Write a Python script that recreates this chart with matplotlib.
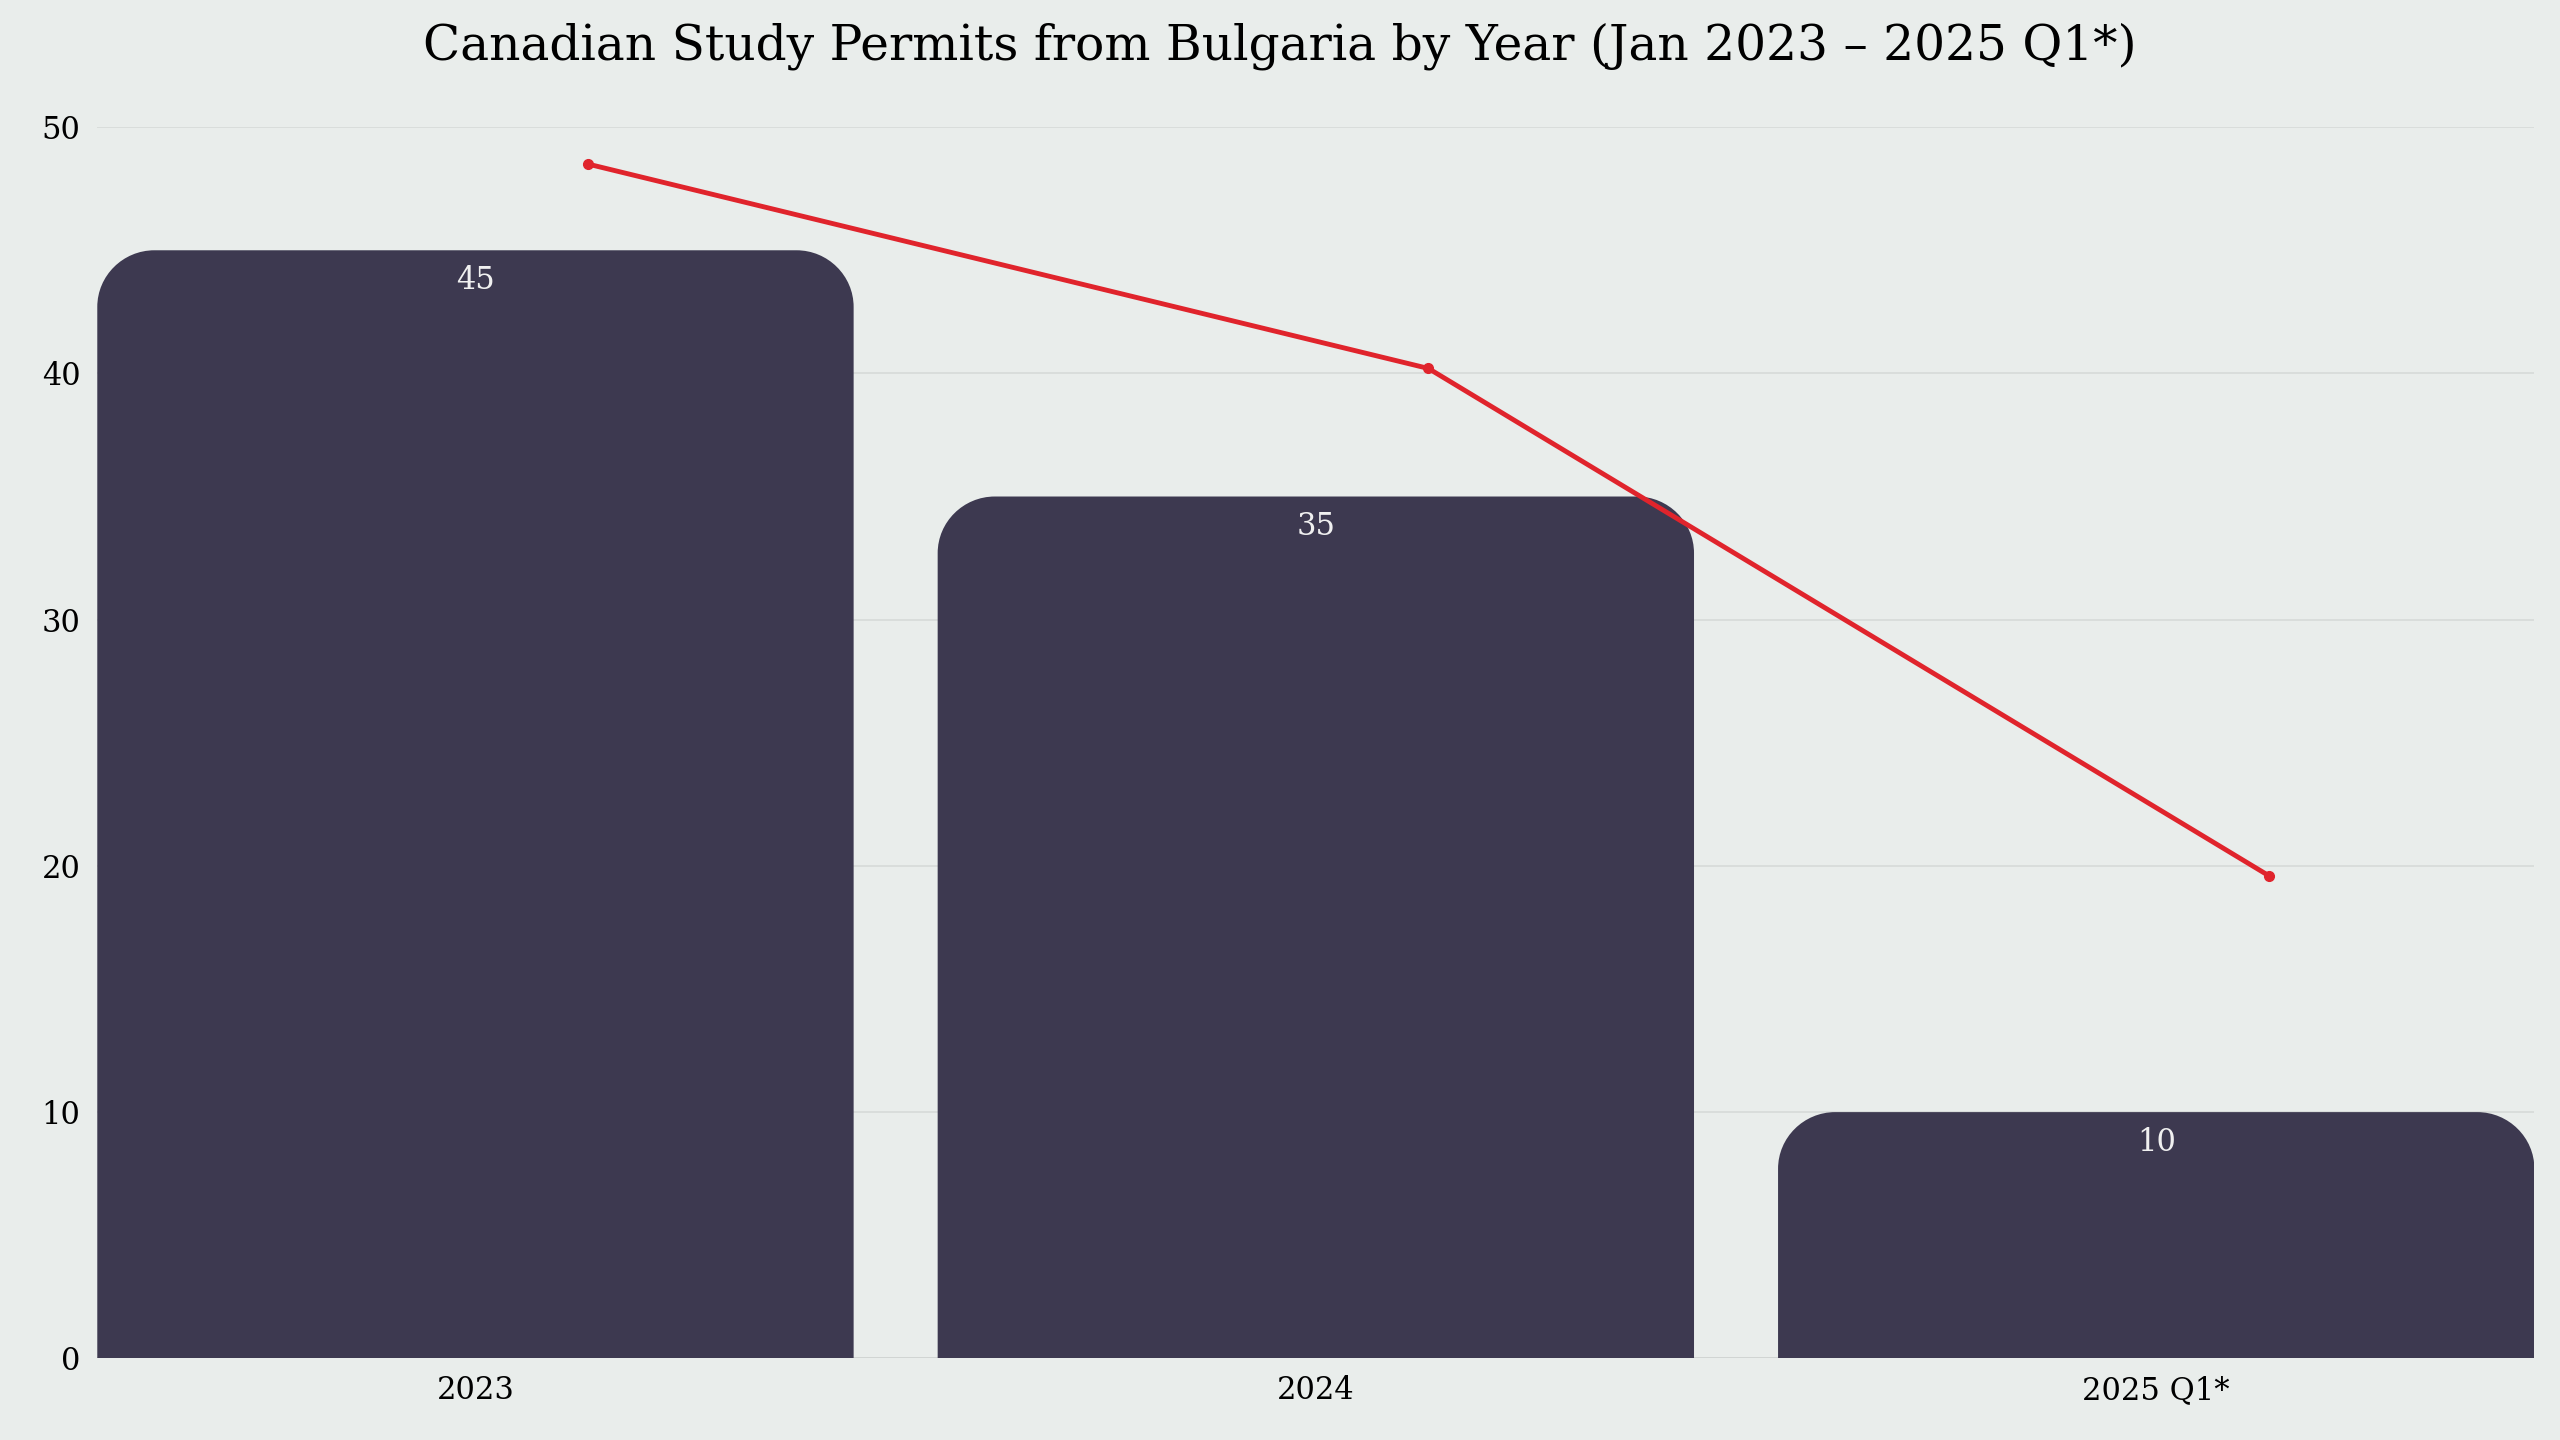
import matplotlib
matplotlib.use("Agg")
import matplotlib.pyplot as plt
from matplotlib.path import Path
from matplotlib.patches import PathPatch

categories = ["2023", "2024", "2025 Q1*"]
permits = [45, 35, 10]
trend = [48.5, 40.2, 19.6]
yticks = [0, 10, 20, 30, 40, 50]

BG = "#e9edeb"
BAR = "#3d3950"
RED = "#e0242c"
plt.rcParams["font.family"] = "DejaVu Serif"

fig = plt.figure(figsize=(25.6, 14.4), dpi=100, facecolor=BG)
ax = fig.add_axes([0.038, 0.0567, 0.952, 0.855], facecolor=BG)
ax.set_xlim(-0.45, 2.45)
ax.set_ylim(0, 50)

def rounded_bar(ax, x, h, w, rx, ry):
    l, r = x - w / 2, x + w / 2
    k = 0.55
    verts = [(l, 0), (l, h - ry), (l, h - ry + k * ry), (l + rx - k * rx, h), (l + rx, h),
             (r - rx, h), (r - rx + k * rx, h), (r, h - ry + k * ry), (r, h - ry),
             (r, 0), (l, 0)]
    codes = [Path.MOVETO, Path.LINETO, Path.CURVE4, Path.CURVE4, Path.CURVE4,
             Path.LINETO, Path.CURVE4, Path.CURVE4, Path.CURVE4, Path.LINETO, Path.CLOSEPOLY]
    ax.add_patch(PathPatch(Path(verts, codes), facecolor=BAR, edgecolor="none", zorder=2))

for i, v in enumerate(permits):
    rounded_bar(ax, i, v, 0.9, 0.068, 2.3)
    ax.text(i, v - 0.6, str(v), ha="center", va="top", color="#f0f0f0", fontsize=22, zorder=3)

xs = [i + 0.134 for i in range(len(trend))]
ax.plot(xs, trend, color=RED, lw=3.5, marker="o", ms=7, zorder=4, clip_on=False)

ax.set_yticks(yticks)
ax.set_xticks(range(len(categories)))
ax.set_xticklabels(categories)
ax.tick_params(length=0, labelsize=22, pad=12)
ax.grid(axis="y", color="#d6dad8", lw=1.2, zorder=0)
ax.set_axisbelow(True)
for s in ax.spines.values():
    s.set_visible(False)
ax.axhline(0, color="#d0d4d2", lw=1.2, zorder=1)

fig.text(0.5, 0.968, "Canadian Study Permits from Bulgaria by Year (Jan 2023 – 2025 Q1*)",
         ha="center", va="center", fontsize=35)
fig.savefig("out.png", dpi=100, facecolor=BG)
